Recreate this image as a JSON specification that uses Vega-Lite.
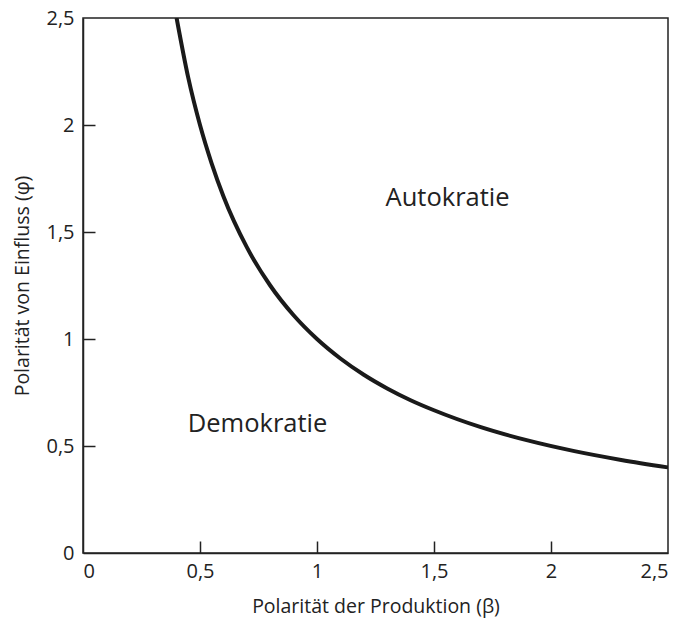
{
  "$schema": "https://vega.github.io/schema/vega-lite/v6.json",
  "width": 585,
  "height": 535,
  "autosize": "none",
  "padding": {"left": 83, "top": 18, "right": 16, "bottom": 70},
  "background": "white",
  "config": {
    "view": {"stroke": "#222", "strokeWidth": 1.5},
    "font": "Open Sans",
    "axis": {
      "grid": false,
      "zindex": 1,
      "domainColor": "#222",
      "domainWidth": 1.5,
      "tickColor": "#222",
      "tickWidth": 1.5,
      "labelColor": "#222",
      "titleColor": "#222",
      "labelFont": "Open Sans",
      "titleFont": "Open Sans",
      "titleFontWeight": "normal",
      "labelFontSize": 20,
      "titleFontSize": 19.5
    }
  },
  "resolve": {"axis": {"x": "independent", "y": "independent"}},
  "datasets": {
    "curve": [
      {"beta": 0.4, "phi": 2.5},
      {"beta": 0.45, "phi": 2.22},
      {"beta": 0.5, "phi": 2.0},
      {"beta": 0.55, "phi": 1.82},
      {"beta": 0.6, "phi": 1.667},
      {"beta": 0.7, "phi": 1.429},
      {"beta": 0.8, "phi": 1.25},
      {"beta": 0.9, "phi": 1.111},
      {"beta": 1.0, "phi": 1.0},
      {"beta": 1.1, "phi": 0.909},
      {"beta": 1.2, "phi": 0.833},
      {"beta": 1.3, "phi": 0.769},
      {"beta": 1.4, "phi": 0.714},
      {"beta": 1.5, "phi": 0.667},
      {"beta": 1.7, "phi": 0.588},
      {"beta": 1.9, "phi": 0.526},
      {"beta": 2.1, "phi": 0.476},
      {"beta": 2.3, "phi": 0.435},
      {"beta": 2.5, "phi": 0.4}
    ],
    "labels": [
      {"beta": 1.558, "phi": 1.661, "text": "Autokratie"},
      {"beta": 0.746, "phi": 0.605, "text": "Demokratie"}
    ]
  },
  "layer": [
    {
      "data": {"name": "curve"},
      "mark": {"type": "line", "color": "#1a1a1a", "strokeWidth": 4, "interpolate": "monotone", "clip": true},
      "encoding": {
        "x": {
          "field": "beta", "type": "quantitative",
          "scale": {"domain": [0, 2.5], "nice": false},
          "axis": {
            "orient": "bottom",
            "values": [0, 0.5, 1, 1.5, 2, 2.5],
            "ticks": false,
            "labelPadding": 8,
            "labelExpr": "replace(format(datum.value, '~g'), '.', ',')",
            "title": "Polarität der Produktion (β)",
            "titlePadding": 16
          }
        },
        "y": {
          "field": "phi", "type": "quantitative",
          "scale": {"domain": [0, 2.5], "nice": false},
          "axis": {
            "orient": "left",
            "values": [0, 0.5, 1, 1.5, 2, 2.5],
            "ticks": false,
            "labelPadding": 9,
            "labelExpr": "replace(format(datum.value, '~g'), '.', ',')",
            "title": "Polarität von Einfluss (φ)",
            "titlePadding": 13
          }
        }
      }
    },
    {
      "data": {"name": "labels"},
      "mark": {"type": "text", "fontSize": 25.5, "color": "#222", "font": "Open Sans"},
      "encoding": {
        "x": {
          "field": "beta", "type": "quantitative",
          "axis": {
            "orient": "bottom",
            "offset": -12,
            "values": [0.5, 1, 1.5, 2],
            "domain": false,
            "labels": false,
            "ticks": true,
            "tickSize": 12,
            "title": null
          }
        },
        "y": {
          "field": "phi", "type": "quantitative",
          "axis": {
            "orient": "left",
            "offset": -12,
            "values": [0.5, 1, 1.5, 2],
            "domain": false,
            "labels": false,
            "ticks": true,
            "tickSize": 12,
            "title": null
          }
        },
        "text": {"field": "text"}
      }
    }
  ]
}
